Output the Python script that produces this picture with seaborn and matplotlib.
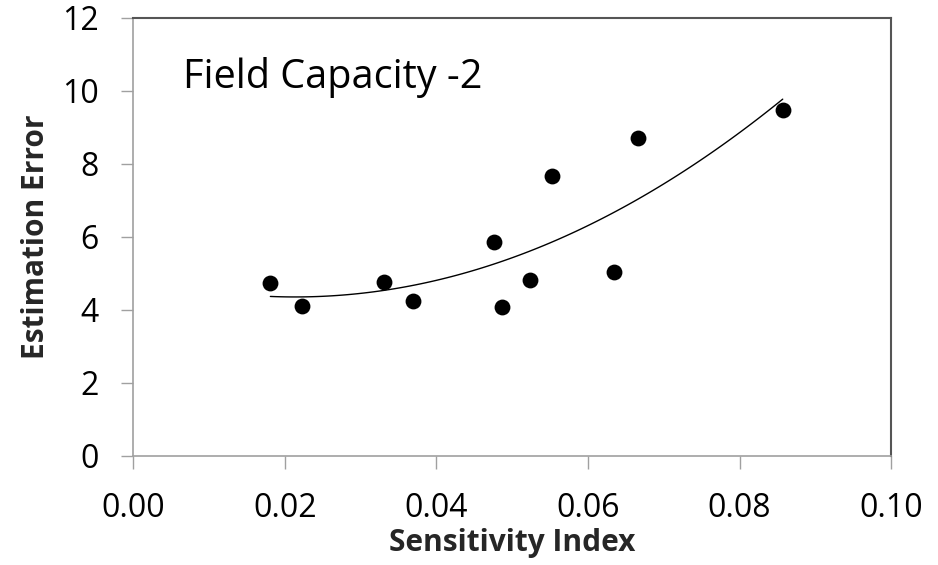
import numpy as np
import pandas as pd
import seaborn as sns
import matplotlib
matplotlib.use("Agg")
import matplotlib.pyplot as plt

sensitivity = [0.0181, 0.0223, 0.0331, 0.0369, 0.0476, 0.0486, 0.0524, 0.0552, 0.0634, 0.0666, 0.0857]
est_error = [4.73, 4.10, 4.76, 4.23, 5.85, 4.07, 4.81, 7.66, 5.03, 8.70, 9.47]
xticks = [0.00, 0.02, 0.04, 0.06, 0.08, 0.10]
yticks = [0, 2, 4, 6, 8, 10, 12]

df = pd.DataFrame({"Sensitivity Index": sensitivity, "Estimation Error": est_error})

sns.set_theme(style="white")
plt.rcParams['font.family'] = ['Open Sans', 'DejaVu Sans']

fig = plt.figure(figsize=(9.38, 5.65), dpi=100)
ax = fig.add_axes([0.142, 0.1935, 0.808, 0.775])

sns.regplot(data=df, x="Sensitivity Index", y="Estimation Error", order=2, ci=None,
            scatter=False, truncate=True, ax=ax,
            line_kws=dict(color="black", lw=1.0))
sns.scatterplot(data=df, x="Sensitivity Index", y="Estimation Error", ax=ax,
                s=130, color="black", edgecolor="black", linewidth=0, zorder=3)

ax.set_xlim(0, 0.10)
ax.set_ylim(0, 12)
ax.set_xticks(xticks)
ax.set_xticklabels([f"{v:.2f}" for v in xticks])
ax.set_yticks(yticks)
ax.set_yticklabels([str(v) for v in yticks])
ax.tick_params(axis="both", which="major", direction="out", length=9, width=1,
               color="#a0a0a0", labelsize=23, labelcolor="black")
ax.tick_params(axis="x", bottom=True, pad=17)
ax.tick_params(axis="y", left=True, pad=16)

for side in ["left", "bottom"]:
    ax.spines[side].set_color("#a0a0a0")
    ax.spines[side].set_linewidth(1.2)
for side in ["top", "right"]:
    ax.spines[side].set_visible(True)
    ax.spines[side].set_color("#555555")
    ax.spines[side].set_linewidth(1.5)

ax.set_xlabel("Sensitivity Index", fontsize=21.5, fontweight="bold", labelpad=2)
ax.set_ylabel("Estimation Error", fontsize=21.5, fontweight="bold", labelpad=8)

ax.text(0.0066, 10.07, "Field Capacity -2", fontsize=28.5, color="black",
        va="baseline", ha="left")

fig.savefig("out.png", dpi=100)
